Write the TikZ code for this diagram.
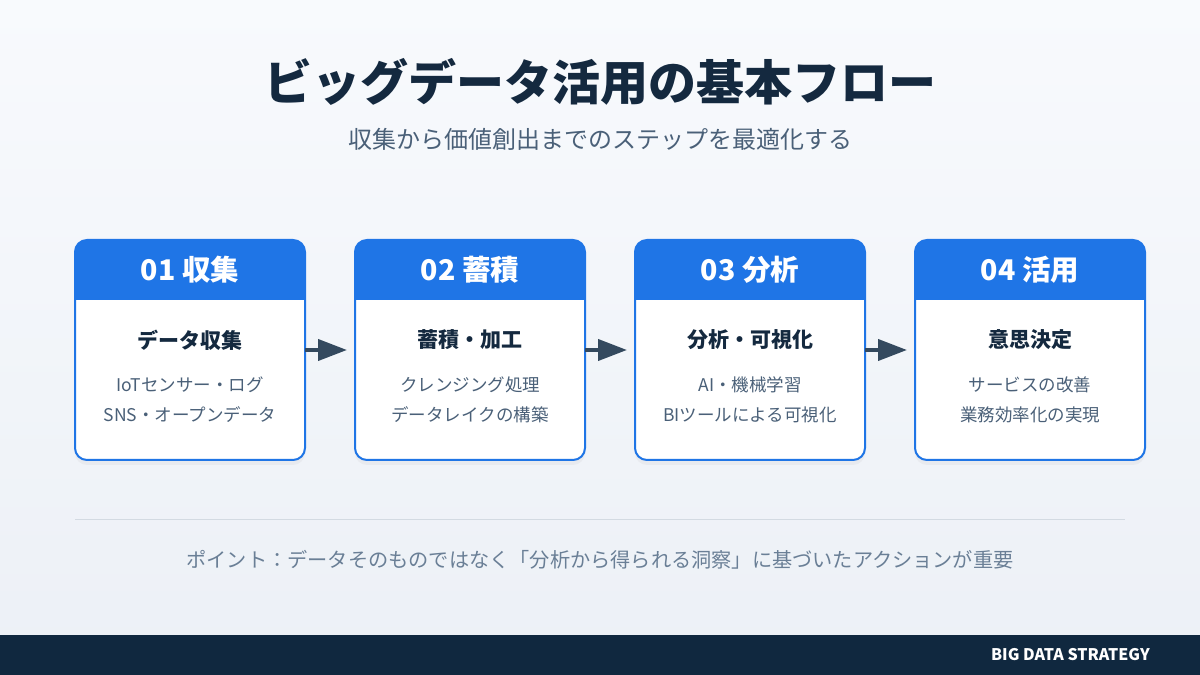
\documentclass[tikz,border=0pt]{standalone}
\usepackage{fontspec}
\setmainfont{Noto Sans CJK JP}
\usetikzlibrary{arrows.meta, positioning, shadows}

\definecolor{stepblue}{HTML}{1F75E6}
\definecolor{navy}{HTML}{14293F}
\definecolor{slate}{HTML}{4A6078}
\definecolor{arrowgray}{HTML}{34495E}
\definecolor{notegray}{HTML}{6A7F96}
\definecolor{linegray}{HTML}{D3DAE2}
\definecolor{barnavy}{HTML}{10283F}
\definecolor{bgtop}{HTML}{F8FAFD}
\definecolor{bgbottom}{HTML}{ECF0F6}

\begin{document}
\begin{tikzpicture}[x=1pt, y=1pt, node distance=50pt,
    card/.style={draw=stepblue, line width=2pt, fill=white, rounded corners=12pt,
        outer sep=0pt, minimum width=230pt, minimum height=220pt,
        drop shadow={opacity=0.07, shadow xshift=0pt, shadow yshift=-5pt}},
    headtext/.style={text=white, font=\fontsize{28.5}{33}\selectfont\bfseries},
    cardtitle/.style={text=navy, font=\fontsize{21}{25}\selectfont\bfseries},
    cardline/.style={text=slate, font=\fontsize{17.5}{21}\selectfont},
    flow/.style={draw=arrowgray, line width=4pt, -{Triangle[length=29pt, width=21pt]}, shorten >=8pt}]

    % background and page size
    \shade[top color=bgtop, bottom color=bgbottom] (0,0) rectangle (1200,675);
    \useasboundingbox (0,0) rectangle (1200,675);

    % heading
    \node[text=navy, font=\fontsize{48}{56}\selectfont\bfseries] (title) at (600,593) {ビッグデータ活用の基本フロー};
    \node[text=slate, font=\fontsize{24}{28}\selectfont] (subtitle) at (600,536) {収集から価値創出までのステップを最適化する};

    % cards
    \node[card] (c1) at (190,325) {};
    \node[card, right=of c1] (c2) {};
    \node[card, right=of c2] (c3) {};
    \node[card, right=of c3] (c4) {};

    % card headers
    \begin{scope}
        \clip[rounded corners=12pt] (c1.south west) rectangle (c1.north east);
        \fill[stepblue] (c1.north west) rectangle ([yshift=-60pt]c1.north east);
    \end{scope}
    \begin{scope}
        \clip[rounded corners=12pt] (c2.south west) rectangle (c2.north east);
        \fill[stepblue] (c2.north west) rectangle ([yshift=-60pt]c2.north east);
    \end{scope}
    \begin{scope}
        \clip[rounded corners=12pt] (c3.south west) rectangle (c3.north east);
        \fill[stepblue] (c3.north west) rectangle ([yshift=-60pt]c3.north east);
    \end{scope}
    \begin{scope}
        \clip[rounded corners=12pt] (c4.south west) rectangle (c4.north east);
        \fill[stepblue] (c4.north west) rectangle ([yshift=-60pt]c4.north east);
    \end{scope}

    \node[headtext] (h1) at ([yshift=-30pt]c1.north) {01 収集};
    \node[headtext] (h2) at ([yshift=-30pt]c2.north) {02 蓄積};
    \node[headtext] (h3) at ([yshift=-30pt]c3.north) {03 分析};
    \node[headtext] (h4) at ([yshift=-30pt]c4.north) {04 活用};

    % card contents
    \node[cardtitle] (t1) at ([yshift=10pt]c1.center) {データ収集};
    \node[cardline] (a1) at ([yshift=-35pt]c1.center) {IoTセンサー・ログ};
    \node[cardline] (b1) at ([yshift=-65pt]c1.center) {SNS・オープンデータ};

    \node[cardtitle] (t2) at ([yshift=10pt]c2.center) {蓄積・加工};
    \node[cardline] (a2) at ([yshift=-35pt]c2.center) {クレンジング処理};
    \node[cardline] (b2) at ([yshift=-65pt]c2.center) {データレイクの構築};

    \node[cardtitle] (t3) at ([yshift=10pt]c3.center) {分析・可視化};
    \node[cardline] (a3) at ([yshift=-35pt]c3.center) {AI・機械学習};
    \node[cardline] (b3) at ([yshift=-65pt]c3.center) {BIツールによる可視化};

    \node[cardtitle] (t4) at ([yshift=10pt]c4.center) {意思決定};
    \node[cardline] (a4) at ([yshift=-35pt]c4.center) {サービスの改善};
    \node[cardline] (b4) at ([yshift=-65pt]c4.center) {業務効率化の実現};

    % arrows between steps
    \draw[flow] (c1) -- (c2);
    \draw[flow] (c2) -- (c3);
    \draw[flow] (c3) -- (c4);

    % divider and note
    \coordinate (divl) at (75,155);
    \coordinate (divr) at (1125,155);
    \draw[linegray, line width=1pt] (divl) -- (divr);
    \node[text=notegray, font=\fontsize{20.2}{24}\selectfont] (note) at (600,115)
        {ポイント：データそのものではなく「分析から得られる洞察」に基づいたアクションが重要};

    % footer bar
    \fill[barnavy] (0,0) rectangle (1200,40);
    \node[text=white, font=\fontsize{16}{19}\selectfont\bfseries, anchor=east, inner xsep=0pt] (brand) at (1150,20) {BIG DATA STRATEGY};
\end{tikzpicture}
\end{document}
